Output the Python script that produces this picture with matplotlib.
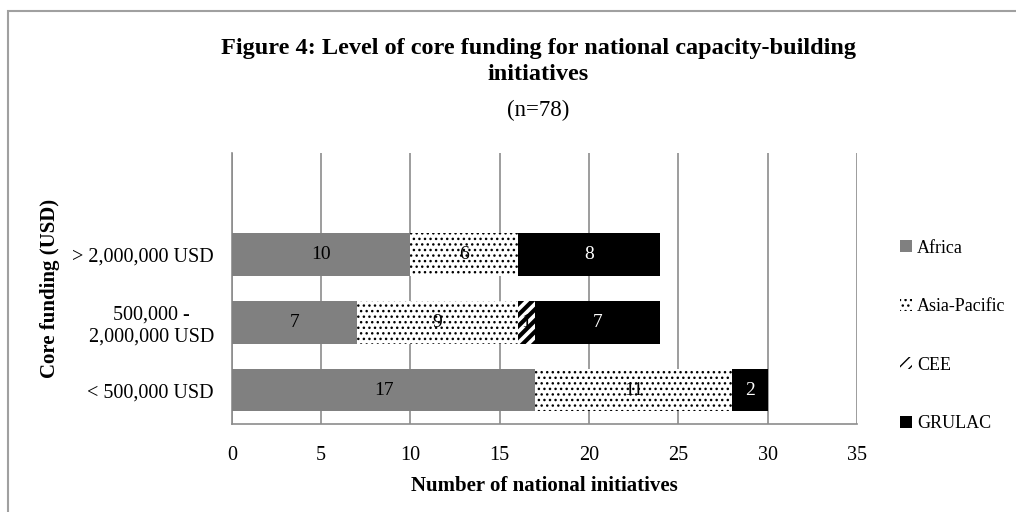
import matplotlib.pyplot as plt
from matplotlib.patches import Rectangle
import matplotlib as mpl

plt.rcParams['font.family'] = ['Liberation Serif', 'DejaVu Serif']

categories = ['< 500,000 USD', '500,000 -\n2,000,000 USD', '> 2,000,000 USD']
regions = ['Africa', 'Asia-Pacific', 'CEE', 'GRULAC']
africa = [17, 7, 10]
asia_pacific = [11, 9, 6]
cee = [0, 1, 0]
grulac = [2, 7, 8]
xticks = [0, 5, 10, 15, 20, 25, 30, 35]

styles = {
    'Africa': dict(color='#808080', hatch=None, hlw=1.0, text='black'),
    'Asia-Pacific': dict(color='white', hatch='...', hlw=1.0, text='black'),
    'CEE': dict(color='white', hatch='///', hlw=3.0, text='black'),
    'GRULAC': dict(color='black', hatch=None, hlw=1.0, text='white'),
}

fig = plt.figure(figsize=(10.16, 5.12), dpi=100)
ax = fig.add_axes([0.2283, 0.172, 0.615, 0.529])

# light grey frame around the whole chart
fig.patches.append(Rectangle((0.008, -0.05), 1.1, 1.028, transform=fig.transFigure,
                             fill=False, edgecolor='#a0a0a0', linewidth=1.5))

ypos = list(range(len(categories)))
left = [0] * len(categories)
for name, vals in zip(regions, [africa, asia_pacific, cee, grulac]):
    st = styles[name]
    with mpl.rc_context({'hatch.linewidth': st['hlw']}):
        bars = ax.barh(ypos, vals, left=left, height=0.63, color=st['color'],
                       edgecolor='black' if st['hatch'] else st['color'],
                       hatch=st['hatch'], linewidth=0, label=name, zorder=3)
    for b in bars:
        if hasattr(b, 'set_hatch_linewidth'):
            b.set_hatch_linewidth(st['hlw'])
    for b, v, l in zip(bars, vals, left):
        if v > 0:
            ax.text(l + v / 2, b.get_y() + b.get_height() / 2, str(v),
                    ha='center', va='center', fontsize=14, color=st['text'], zorder=4)
    left = [a + b for a, b in zip(left, vals)]

ax.set_xlim(0, 35)
ax.set_ylim(-0.5, 3.5)
ax.set_xticks(xticks)
ax.set_yticks(ypos)
ax.set_yticklabels(categories, fontsize=14.5)
ax.tick_params(axis='x', labelsize=14.5, length=0, pad=16)
ax.tick_params(axis='y', length=0, pad=13)
for lbl in ax.get_yticklabels():
    lbl.set_multialignment('center')
ax.grid(axis='x', color='#8c8c8c', linewidth=1.2, zorder=0)
for side in ['top', 'right']:
    ax.spines[side].set_visible(False)
for side in ['left', 'bottom']:
    ax.spines[side].set_color('#8c8c8c')
    ax.spines[side].set_linewidth(1.2)

ax.set_xlabel('Number of national initiatives', fontsize=15, fontweight='bold', labelpad=8)
ax.set_ylabel('Core funding (USD)', fontsize=15, fontweight='bold', labelpad=9)

fig.text(0.53, 0.88, 'Figure 4: Level of core funding for national capacity-building\ninitiatives',
         ha='center', va='center', fontsize=17.5, fontweight='bold', linespacing=1.35)
fig.text(0.53, 0.785, '(n=78)', ha='center', va='center', fontsize=16.5)

leg = fig.legend(loc='center left', bbox_to_anchor=(0.87, 0.344), frameon=False, fontsize=13,
                 handlelength=0.65, handleheight=0.65, handletextpad=0.3, labelspacing=2.3)

fig.savefig('out.png', dpi=100)
